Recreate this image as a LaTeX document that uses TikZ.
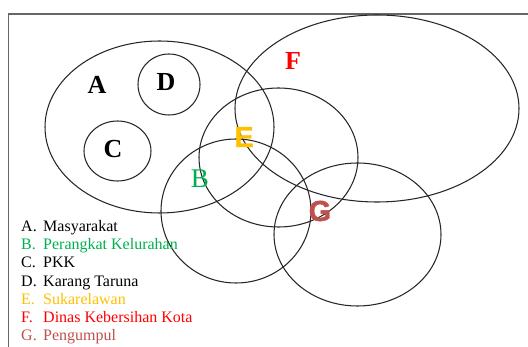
\documentclass[tikz,border=0pt]{standalone}
\usepackage{fontspec}
\setmainfont{Liberation Serif}
\newfontfamily\arialfont{Liberation Sans}[BoldFeatures={FakeBold=1.5}]
\definecolor{bgreen}{HTML}{00B050}
\definecolor{egold}{HTML}{FFC000}
\definecolor{fred}{HTML}{FF0000}
\definecolor{gred}{HTML}{C0504D}
\begin{document}
\begin{tikzpicture}[x=1pt,y=-1pt,
  set/.style={draw=black!85,line width=1.05pt},
  biglab/.style={font=\fontsize{26}{26}\selectfont\bfseries,inner sep=0pt},
  sanslab/.style={font=\arialfont\fontsize{29}{29}\selectfont\bfseries,inner sep=0pt},
  leg/.style={font=\fontsize{16}{16}\selectfont,anchor=base west,inner sep=0pt}]
\useasboundingbox (0,0) rectangle (528,347);
\fill[white] (0,0) rectangle (528,347);
\coordinate (fr1) at (8.3,347);
\coordinate (fr2) at (8.3,14);
\coordinate (fr3) at (528,14);
\draw[gray!80!black,line width=1.2pt] (fr1) -- (fr2) -- (fr3);
% sets
\draw[set] (159.5,127) ellipse [x radius=114.5,y radius=86];
\draw[set] (169,84.5) ellipse [x radius=31,y radius=30.5];
\draw[set] (117.5,151) ellipse [x radius=33.5,y radius=30];
\draw[set] (377,108.5) ellipse [x radius=142,y radius=93.5];
\draw[set] (278.5,157.5) ellipse [x radius=79.5,y radius=69.5];
\draw[set] (236,211) ellipse [x radius=75,y radius=72];
\draw[set] (357.5,234.5) ellipse [x radius=83.5,y radius=71.5];
% labels
\node[biglab] (la) at (97,85) {A};
\node[biglab] (ld) at (166,82) {D};
\node[biglab] (lc) at (113,149) {C};
\node[biglab,text=fred] (lf) at (293,61) {F};
\node[font=\fontsize{27}{27}\selectfont,text=bgreen,inner sep=0pt] (lb) at (200,179) {B};
\node[sanslab,text=egold] (le) at (244,137) {E};
\node[sanslab,text=gred] (lg) at (320,211) {G};
% legend
\node[leg] (l1) at (21,232) {A.};
\node[leg] (t1) at (43,232) {Masyarakat};
\node[leg,text=bgreen] (l2) at (21,250) {B.};
\node[leg,text=bgreen] (t2) at (43,250) {Perangkat Kelurahan};
\node[leg] (l3) at (21,268) {C.};
\node[leg] (t3) at (43,268) {PKK};
\node[leg] (l4) at (21,286.5) {D.};
\node[leg] (t4) at (43,286.5) {Karang Taruna};
\node[leg,text=egold] (l5) at (21,305) {E.};
\node[leg,text=egold] (t5) at (43,305) {Sukarelawan};
\node[leg,text=fred] (l6) at (21,323) {F.};
\node[leg,text=fred] (t6) at (43,323) {Dinas Kebersihan Kota};
\node[leg,text=gred] (l7) at (21,341) {G.};
\node[leg,text=gred] (t7) at (43,341) {Pengumpul};
\end{tikzpicture}
\end{document}
